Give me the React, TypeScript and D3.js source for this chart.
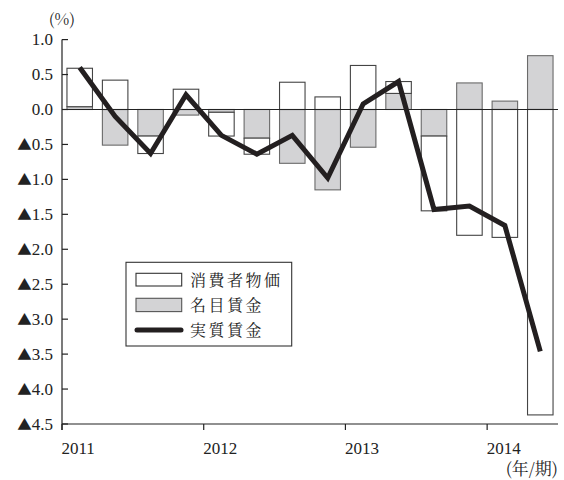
import React from "react";
import * as d3 from "d3";

// Quarterly year-on-year changes (%), 2011Q1 – 2014Q2
const quarters = [
  "2011Q1", "2011Q2", "2011Q3", "2011Q4",
  "2012Q1", "2012Q2", "2012Q3", "2012Q4",
  "2013Q1", "2013Q2", "2013Q3", "2013Q4",
  "2014Q1", "2014Q2",
];
// 名目賃金 (nominal wage contribution)
const nominalWage = [0.04, -0.51, -0.38, -0.08, -0.04, -0.41, -0.77, -1.15, -0.54, 0.23, -0.38, 0.38, 0.12, 0.77];
// 消費者物価 (consumer price contribution, sign inverted)
const consumerPrice = [0.55, 0.42, -0.25, 0.29, -0.34, -0.23, 0.39, 0.18, 0.63, 0.17, -1.07, -1.8, -1.83, -4.37];
// 実質賃金 (real wage)
const realWage = [0.6, -0.1, -0.63, 0.21, -0.37, -0.64, -0.37, -0.98, 0.08, 0.4, -1.43, -1.38, -1.66, -3.46];

const yTicks = [1.0, 0.5, 0.0, -0.5, -1.0, -1.5, -2.0, -2.5, -3.0, -3.5, -4.0, -4.5];
const years = [2011, 2012, 2013, 2014];
const legendLabels = ["消費者物価", "名目賃金", "実質賃金"];

const W = 564;
const H = 480;
const left = 62;
const right = 558;
const top = 39.6;
const bottom = 424;

const serif = "Liberation Serif";
const mincho = "Noto Serif CJK JP";

export default function App() {
  const x = d3
    .scaleBand<string>()
    .domain(quarters)
    .range([left, right])
    .paddingInner(0.28)
    .paddingOuter(0.14);
  const xYear = d3.scaleLinear().domain([2011, 2014.5]).range([left, right]);
  const y = d3.scaleLinear().domain([-4.5, 1.0]).range([bottom, top]);

  const rows = quarters.map((q, i) => ({ q, nominal: nominalWage[i], cpi: consumerPrice[i] }));
  const stacked = d3
    .stack<any>()
    .keys(["nominal", "cpi"])
    .offset(d3.stackOffsetDiverging)(rows);

  const fills: Record<string, string> = { nominal: "#d3d3d5", cpi: "#ffffff" };
  const strokes: Record<string, string> = { nominal: "#6a6a6a", cpi: "#444444" };

  const line = d3
    .line<number>()
    .x((_, i) => (x(quarters[i]) as number) + x.bandwidth() / 2)
    .y((d) => y(d));

  const fmt = (v: number) => Math.abs(v).toFixed(1);

  return (
    <svg
      width={W}
      height={H}
      style={{ position: "absolute", left: 0, top: 0, background: "#fff" }}
    >
      {/* stacked bars */}
      {stacked.map((s) => (
        <g key={s.key}>
          {s.map((d, i) => {
            const y0 = y(d[0]);
            const y1 = y(d[1]);
            return (
              <rect
                key={i}
                x={x(quarters[i])}
                y={Math.min(y0, y1)}
                width={x.bandwidth()}
                height={Math.abs(y0 - y1)}
                fill={fills[s.key]}
                stroke={strokes[s.key]}
                strokeWidth={1.1}
              />
            );
          })}
        </g>
      ))}

      {/* zero line */}
      <line x1={left} x2={right} y1={y(0)} y2={y(0)} stroke="#222" strokeWidth={1.2} />

      {/* real wage line */}
      <path
        d={line(realWage) || ""}
        fill="none"
        stroke="#231f20"
        strokeWidth={5}
        strokeLinejoin="miter"
        strokeMiterlimit={3}
      />

      {/* axes */}
      <line x1={left} x2={left} y1={top} y2={bottom + 6} stroke="#222" strokeWidth={1.2} />
      <line x1={left} x2={right} y1={bottom} y2={bottom} stroke="#222" strokeWidth={1.2} />
      {yTicks.map((t) => (
        <g key={t}>
          <line x1={left} x2={left + 6} y1={y(t)} y2={y(t)} stroke="#222" strokeWidth={1.2} />
          <text
            x={53}
            y={y(t) + 5.5}
            textAnchor="end"
            fontFamily={serif}
            fontSize={17}
            fill="#222"
          >
            {t < 0 ? (
              <tspan fontFamily={mincho} fontSize={14.5}>
                ▲
              </tspan>
            ) : null}
            {fmt(t)}
          </text>
        </g>
      ))}
      {years.map((yr) => (
        <g key={yr}>
          <line x1={xYear(yr)} x2={xYear(yr)} y1={bottom} y2={bottom + 6} stroke="#222" strokeWidth={1.2} />
          <text x={xYear(yr) - 0.5} y={454} fontFamily={serif} fontSize={17} fill="#222">
            {yr}
          </text>
        </g>
      ))}
      <text x={left} y={25} textAnchor="middle" fontFamily={mincho} fontSize={16} fill="#222">
        (%)
      </text>
      <text x={right} y={475} textAnchor="end" fontFamily={mincho} fontSize={17} fill="#222">
        (年/期)
      </text>

      {/* legend */}
      <g>
        <rect x={126} y={262.3} width={165.7} height={83.7} fill="#fff" stroke="#333" strokeWidth={1.1} />
        <rect x={136} y={273.3} width={45.7} height={12.7} fill="#fff" stroke="#333" strokeWidth={1.1} />
        <rect x={136} y={298.3} width={45.7} height={13.3} fill="#d3d3d5" stroke="#555" strokeWidth={1.1} />
        <line x1={137} x2={181} y1={330} y2={330} stroke="#231f20" strokeWidth={5} strokeLinecap="round" />
        {legendLabels.map((label, i) => (
          <text
            key={label}
            x={190}
            y={285.5 + i * 25.4}
            fontFamily={mincho}
            fontSize={16}
            letterSpacing={2.5}
            fill="#222"
          >
            {label}
          </text>
        ))}
      </g>
    </svg>
  );
}
